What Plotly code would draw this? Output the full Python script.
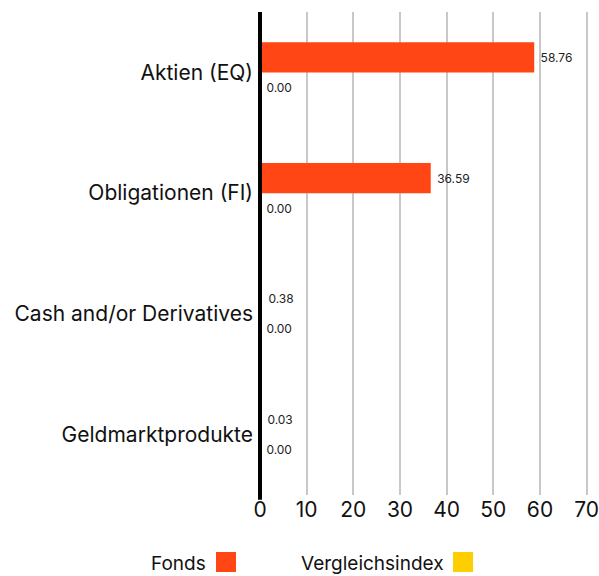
import plotly.graph_objects as go

categories = ["Aktien (EQ)", "Obligationen (FI)", "Cash and/or Derivatives", "Geldmarktprodukte"]
fonds = [58.76, 36.59, 0.38, 0.03]
index_vals = [0.00, 0.00, 0.00, 0.00]
series_names = ["Fonds", "Vergleichsindex"]
colors = ["#FF4614", "#FFCE00"]
x_ticks = [0, 10, 20, 30, 40, 50, 60, 70]

FONT = "Inter, Roboto, sans-serif"

fig = go.Figure()
for name, vals, col in zip(series_names, [fonds, index_vals], colors):
    fig.add_trace(go.Bar(
        y=categories, x=vals, name=name, orientation="h",
        marker=dict(color=col, line=dict(width=0)),
        text=["\u00a0" + f"{v:.2f}" for v in vals], textposition="outside",
        textfont=dict(size=12, color="#222", family=FONT),
        cliponaxis=False, showlegend=False,
    ))

fig.update_layout(
    width=599, height=576,
    margin=dict(l=260, r=0, t=12, b=81),
    barmode="group", bargap=0.5, bargroupgap=0,
    plot_bgcolor="white", paper_bgcolor="white",
    font=dict(family=FONT, color="#111"),
    xaxis=dict(range=[0, 72.64], tickvals=x_ticks, ticktext=[str(t) for t in x_ticks],
               showgrid=True, gridcolor="#c8c8c8", gridwidth=2,
               zeroline=False, automargin=False, ticklabeloverflow="allow",
               tickfont=dict(size=21, color="#111"), ticks="", showline=False),
    yaxis=dict(autorange="reversed", showgrid=False, ticks="", ticklabelstandoff=6,
               tickfont=dict(size=21, color="#111"), showline=False),
)

# thick zero axis line drawn above the bars (paper ref so it is not clipped)
fig.add_shape(type="line", xref="paper", yref="paper", x0=0, x1=0, y0=-0.01, y1=1.0,
              line=dict(color="black", width=4), layer="above")

# custom legend: text followed by swatch
legend_items = [(series_names[0], colors[0], 208, 216), (series_names[1], colors[1], 446, 453)]
def px_x(px):
    return (px - 260) / 339
def px_y(py):
    return (495 - py) / 483
for name, col, text_end, sw_start in legend_items:
    fig.add_annotation(x=px_x(text_end), y=px_y(563), xref="paper", yref="paper",
                       text=name, showarrow=False, xanchor="right", yanchor="middle",
                       font=dict(size=19, color="#111", family=FONT))
    fig.add_shape(type="rect", xref="paper", yref="paper",
                  x0=px_x(sw_start), x1=px_x(sw_start + 20), y0=px_y(572), y1=px_y(552),
                  fillcolor=col, line=dict(width=0))

fig.write_html("out.html", config={"displayModeBar": False})
with open("out.html", "r", encoding="utf-8") as f:
    html = f.read()
html = html.replace("<body>", '<body style="margin:0;overflow:hidden">', 1)
with open("out.html", "w", encoding="utf-8") as f:
    f.write(html)
